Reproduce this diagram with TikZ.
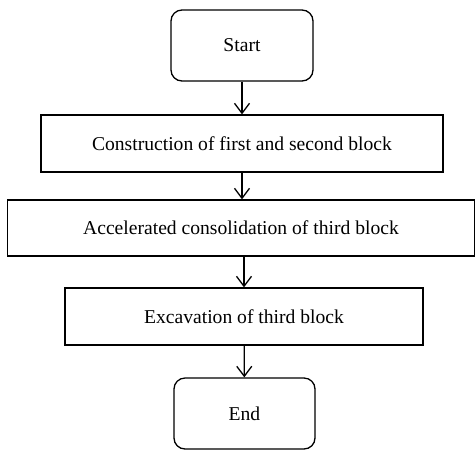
\documentclass[tikz,border=0pt]{standalone}
\usepackage{fontspec}
\setmainfont{Liberation Serif}
\usepackage{tikz}
\usetikzlibrary{arrows.meta}

\tikzset{
    stepbox/.style={draw, line width=1.3pt, inner sep=0pt, align=center,
        font=\fontsize{19.6}{23}\selectfont},
    termbox/.style={stepbox, rounded corners=11pt},
    flowarrow/.style={line width=1.3pt, -{Straight Barb[length=10pt, width=15pt, line width=1.3pt]}}
}

\begin{document}
\begin{tikzpicture}[x=1pt, y=-1pt]
        \useasboundingbox (0, 0) rectangle (476, 451);

        \node [termbox, minimum width=142pt, minimum height=71pt] (start) at (242, 45.5) {Start};
        \node [stepbox, minimum width=402pt, minimum height=57pt] (build) at (242, 143.5) {Construction of first and second block};
        \node [stepbox, minimum width=467pt, minimum height=56pt] (consol) at (241, 228) {Accelerated consolidation of third block};
        \node [stepbox, minimum width=358pt, minimum height=57pt] (excav) at (244, 316.5) {Excavation of third block};
        \node [termbox, minimum width=141pt, minimum height=71pt] (end) at (244.5, 413.5) {End};

        % arrows between the steps
        \draw [flowarrow] (start) -- (build);
        \draw [flowarrow] (build.south) -- (build.south |- consol.north);
        \draw [flowarrow] (excav.north |- consol.south) -- (excav.north);
        \draw [flowarrow] (excav) -- (end);
    \end{tikzpicture}
\end{document}
